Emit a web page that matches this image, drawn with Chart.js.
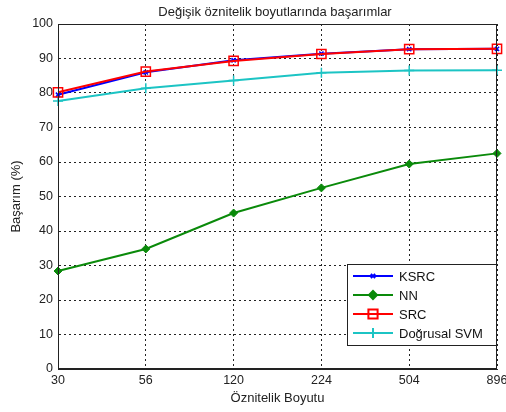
<!DOCTYPE html>
<html>
<head>
<meta charset="utf-8">
<script src="https://cdn.jsdelivr.net/npm/chart.js@4"></script>
<style>
  body { margin: 0; background: #fff; }
  canvas { display: block; }
</style>
</head>
<body>
<canvas id="chart" width="506" height="412"></canvas>
<script>
const boyutlar = ["30", "56", "120", "224", "504", "896"];
const ksrc = [79.5, 86.0, 89.5, 91.4, 92.7, 92.8];
const nn = [28.4, 34.8, 45.2, 52.5, 59.4, 62.5];
const src = [80.2, 86.2, 89.3, 91.3, 92.7, 92.8];
const svm = [77.7, 81.4, 83.6, 85.9, 86.5, 86.6];

const FONT = "'Liberation Sans', Arial, sans-serif";

// title, box round the plot and the legend inside the plot
const matlabLook = {
  id: "matlabLook",
  afterDraw(chart) {
    const { ctx, chartArea: a } = chart;
    ctx.save();
    ctx.strokeStyle = "#222";
    ctx.lineWidth = 1;
    ctx.strokeRect(a.left + 0.5, a.top + 0.5, a.right - a.left - 1, a.bottom - a.top - 1);

    ctx.fillStyle = "#222";
    ctx.font = "13px " + FONT;
    ctx.textAlign = "center";
    ctx.textBaseline = "middle";
    ctx.fillText("Değişik öznitelik boyutlarında başarımlar", 275, 12);

    // legend
    const lx = 347, ly = 264, lw = 149, lh = 81;
    ctx.fillStyle = "#fff";
    ctx.fillRect(lx, ly, lw, lh);
    ctx.strokeRect(lx + 0.5, ly + 0.5, lw, lh);
    ctx.textAlign = "left";
    chart.data.datasets.forEach((ds, i) => {
      const y = 276 + i * 19;
      ctx.strokeStyle = ds.borderColor;
      ctx.lineWidth = ds.borderWidth;
      ctx.beginPath();
      ctx.moveTo(353, y);
      ctx.lineTo(393, y);
      ctx.stroke();
      ctx.fillStyle = ds.pointBackgroundColor;
      ctx.strokeStyle = ds.borderColor;
      Chart.helpers.drawPoint(ctx, {
        pointStyle: ds.pointStyle,
        radius: ds.pointRadius,
        borderWidth: ds.pointBorderWidth,
        rotation: 0
      }, 373, y);
      ctx.fillStyle = "#111";
      ctx.fillText(ds.label, 399, y + 1);
    });
    ctx.restore();
  }
};

const noPad = (scale) => {
  scale.paddingTop = 0;
  scale.paddingBottom = 0;
  scale.paddingLeft = 0;
  scale.paddingRight = 0;
};

new Chart(document.getElementById("chart"), {
  type: "line",
  data: {
    labels: boyutlar,
    datasets: [
      {
        label: "KSRC", data: ksrc, borderColor: "#0000ff", borderWidth: 2,
        pointStyle: "crossRot", pointRadius: 3, pointBorderWidth: 1.5,
        pointBackgroundColor: "#0000ff", order: 4
      },
      {
        label: "NN", data: nn, borderColor: "#0a8a0a", borderWidth: 2,
        pointStyle: "rectRot", pointRadius: 4, pointBorderWidth: 1,
        pointBackgroundColor: "#0a8a0a", order: 3
      },
      {
        label: "SRC", data: src, borderColor: "#ff0000", borderWidth: 2,
        pointStyle: "rect", pointRadius: 6.5, pointBorderWidth: 1.5,
        pointBackgroundColor: "rgba(0,0,0,0)", order: 1
      },
      {
        label: "Doğrusal SVM", data: svm, borderColor: "#1cc4c4", borderWidth: 2,
        pointStyle: "cross", pointRadius: 5, pointBorderWidth: 1.5,
        pointBackgroundColor: "#1cc4c4", order: 2
      }
    ]
  },
  options: {
    responsive: false,
    animation: false,
    layout: { padding: { top: 24, right: 9, left: 0, bottom: 0 } },
    plugins: {
      legend: { display: false },
      title: { display: false },
      tooltip: { enabled: false }
    },
    elements: { line: { tension: 0 } },
    scales: {
      x: {
        type: "category",
        offset: false,
        afterFit(scale) { scale.height = 43; noPad(scale); },
        grid: { color: "#222", lineWidth: 1, drawTicks: false },
        border: { display: true, color: "#222", dash: [2, 3] },
        ticks: { color: "#222", font: { family: FONT, size: 12.5 }, padding: 4, maxRotation: 0 },
        title: { display: true, text: "Öznitelik Boyutu", color: "#222", font: { family: FONT, size: 13 }, padding: { top: 0, bottom: 6 } }
      },
      y: {
        min: 0,
        max: 100,
        afterFit(scale) { scale.width = 58; noPad(scale); },
        grid: { color: "#222", lineWidth: 1, drawTicks: false },
        border: { display: true, color: "#222", dash: [2, 3] },
        ticks: { stepSize: 10, color: "#222", font: { family: FONT, size: 12.5 }, padding: 5 },
        title: { display: true, text: "Başarım (%)", color: "#222", font: { family: FONT, size: 13 }, padding: { top: 9, bottom: 0 } }
      }
    }
  },
  plugins: [matlabLook]
});
</script>
</body>
</html>
